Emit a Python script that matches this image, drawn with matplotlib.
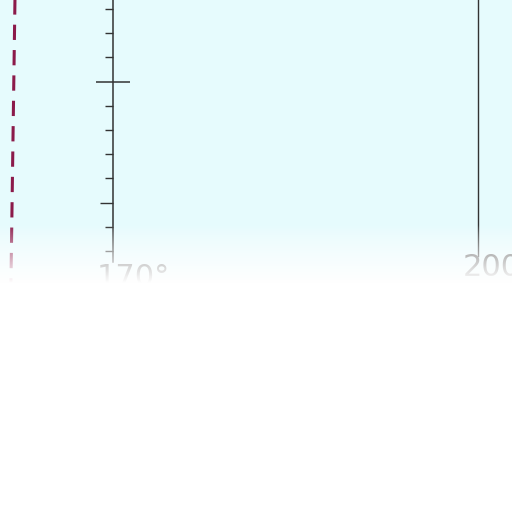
import numpy as np
import matplotlib.pyplot as plt

# 経度（度）と目盛り
lon_axis = 170
lon_right = 200
lon_labels = ['170°', '200°']
dashed_lon = [161.95, 161.62]
dashed_y = [-0.4, 11.3]
tick_y = [0, 1, 2, 4, 5, 6, 7, 8, 9, 10]
major_y = [3]
long_tick = 8

x_min, x_max = 160.72, 202.8
y_top, y_bot = -0.372, 20.79

fig = plt.figure(figsize=(5.12, 5.12), dpi=100)
ax = fig.add_axes([0, 0, 1, 1])
ax.set_facecolor('#e6fbfd')
ax.set_xlim(x_min, x_max)
ax.set_ylim(y_bot, y_top)

# 左の軸（目盛り付き）
for s in ['top', 'right', 'bottom']:
    ax.spines[s].set_visible(False)
ax.spines['left'].set_position(('data', lon_axis))
ax.spines['left'].set_bounds(y_top, 10.45)
ax.spines['left'].set_color('#333333')
ax.spines['left'].set_linewidth(1.1)
ax.set_xticks([])
ax.set_yticks(major_y)
ax.set_yticks(tick_y, minor=True)
ax.tick_params(axis='y', which='major', direction='inout', length=24, width=1.1,
               color='#333333', labelleft=False)
ax.tick_params(axis='y', which='minor', direction='out', length=6, width=1.0,
               color='#333333', labelleft=False)
ax.yaxis.get_minor_ticks()[tick_y.index(long_tick)].tick1line.set_markersize(9.5)

# 右の縦線
ax.plot([lon_right, lon_right], [y_top, 10.2], color='#333333', lw=1.0)

# 破線
ax.plot(dashed_lon, dashed_y, color='#8b1a4a', lw=2.2, dashes=(5, 3.3))

# ラベル
ax.text(lon_axis - 1.3, 10.5, lon_labels[0], fontsize=22, color='#555555',
        ha='left', va='top')
ax.text(lon_right - 1.23, 10.1, lon_labels[1], fontsize=22, color='#555555',
        ha='left', va='top')

# 下部の白いフェード
g0, g1 = (225 - 9) / 24.2, (283 - 9) / 24.2
rows = np.linspace(0, 1, 256).reshape(-1, 1) ** 0.8
fade = np.ones((256, 1, 4))
fade[..., 3] = rows
ax.imshow(fade, extent=[x_min, x_max, g1, g0], aspect='auto', zorder=10)
ax.axhspan(g1, y_bot, color='white', zorder=10, lw=0)
ax.set_xlim(x_min, x_max)
ax.set_ylim(y_bot, y_top)

fig.savefig('out.png', dpi=100, facecolor='white')
